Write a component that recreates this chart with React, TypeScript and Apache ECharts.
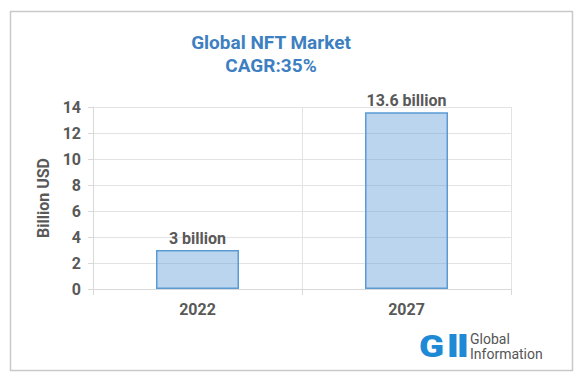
import React, { useEffect, useRef } from "react";
import * as echarts from "echarts";

const categories = ["2022", "2027"];
const values = [3, 13.6];
const valueLabels = ["3 billion", "13.6 billion"];
const yTicks = { min: 0, max: 14, interval: 2 };
const titleLines = ["Global NFT Market", "CAGR:35%"];
const yAxisName = "Billion USD";
const logoLines = ["Global", "Information"];

const FONT = "Roboto, 'Noto Sans', sans-serif";
const GRAY = "#595959";

export default function App() {
  const ref = useRef<HTMLDivElement>(null);
  useEffect(() => {
    if (!ref.current) return;
    const chart = echarts.init(ref.current, null, { renderer: "svg" });
    chart.setOption({
      animation: false,
      backgroundColor: "#ffffff",
      textStyle: { fontFamily: FONT },
      grid: { left: 93, right: 75, top: 107, bottom: 91, containLabel: false },
      xAxis: {
        type: "category",
        data: categories,
        axisLine: { show: true, lineStyle: { color: "#d9d9d9", width: 1 } },
        axisTick: { show: true, alignWithLabel: false, length: 6, lineStyle: { color: "#d9d9d9" } },
        splitLine: { show: true, lineStyle: { color: "#e3e3e3", width: 1 } },
        axisLabel: { color: GRAY, fontSize: 16, fontWeight: "bold", margin: 12, fontFamily: FONT },
      },
      yAxis: {
        type: "value",
        min: yTicks.min,
        max: yTicks.max,
        interval: yTicks.interval,
        name: yAxisName,
        nameLocation: "middle",
        nameGap: 40,
        nameTextStyle: { color: GRAY, fontSize: 16, fontWeight: "bold", fontFamily: FONT },
        axisLine: { show: true, lineStyle: { color: "#d9d9d9", width: 1 } },
        axisTick: { show: true, length: 5, lineStyle: { color: "#d9d9d9" } },
        splitLine: { show: true, lineStyle: { color: "#e3e3e3", width: 1 } },
        axisLabel: { color: GRAY, fontSize: 16, fontWeight: "bold", margin: 12, fontFamily: FONT },
      },
      series: [
        {
          type: "bar",
          data: values,
          barWidth: 83,
          itemStyle: {
            color: "rgba(91,155,213,0.42)",
            borderColor: "#5b9bd5",
            borderWidth: 1.5,
          },
          label: {
            show: true,
            position: "top",
            distance: 4,
            color: GRAY,
            fontSize: 16,
            fontWeight: "bold",
            fontFamily: FONT,
            formatter: (p: any) => valueLabels[p.dataIndex],
          },
        },
      ],
      graphic: [
        {
          type: "rect",
          shape: { x: 10.5, y: 11.5, width: 562, height: 359 },
          style: { fill: "none", stroke: "#c9c9c9", lineWidth: 1.5 },
          z: -1,
        },
        {
          type: "text",
          x: 271,
          y: 42.5,
          style: {
            text: titleLines[0],
            fill: "#3d7fc1",
            font: `bold 19px ${FONT}`,
            textAlign: "center",
            textVerticalAlign: "middle",
          },
        },
        {
          type: "text",
          x: 271,
          y: 65.5,
          style: {
            text: titleLines[1],
            fill: "#3d7fc1",
            font: `bold 19px ${FONT}`,
            textAlign: "center",
            textVerticalAlign: "middle",
          },
        },
        {
          type: "text",
          x: 419,
          y: 346,
          scaleX: 1.15,
          style: {
            text: "G",
            fill: "#1e8ad6",
            font: `900 32px ${FONT}`,
            textAlign: "left",
            textVerticalAlign: "middle",
          },
        },
        {
          type: "rect",
          shape: { x: 449.5, y: 334, width: 7, height: 23 },
          style: { fill: "#1e8ad6" },
        },
        {
          type: "rect",
          shape: { x: 459.5, y: 334, width: 7, height: 23 },
          style: { fill: "#1e8ad6" },
        },
        {
          type: "text",
          x: 470,
          y: 339,
          style: {
            text: logoLines[0],
            fill: "#555555",
            font: `14px ${FONT}`,
            textAlign: "left",
            textVerticalAlign: "middle",
          },
        },
        {
          type: "text",
          x: 470,
          y: 354,
          style: {
            text: logoLines[1],
            fill: "#555555",
            font: `14px ${FONT}`,
            textAlign: "left",
            textVerticalAlign: "middle",
          },
        },
      ],
    });
    return () => chart.dispose();
  }, []);
  return <div ref={ref} style={{ width: 586, height: 380, position: "absolute", left: 0, top: 0 }} />;
}
